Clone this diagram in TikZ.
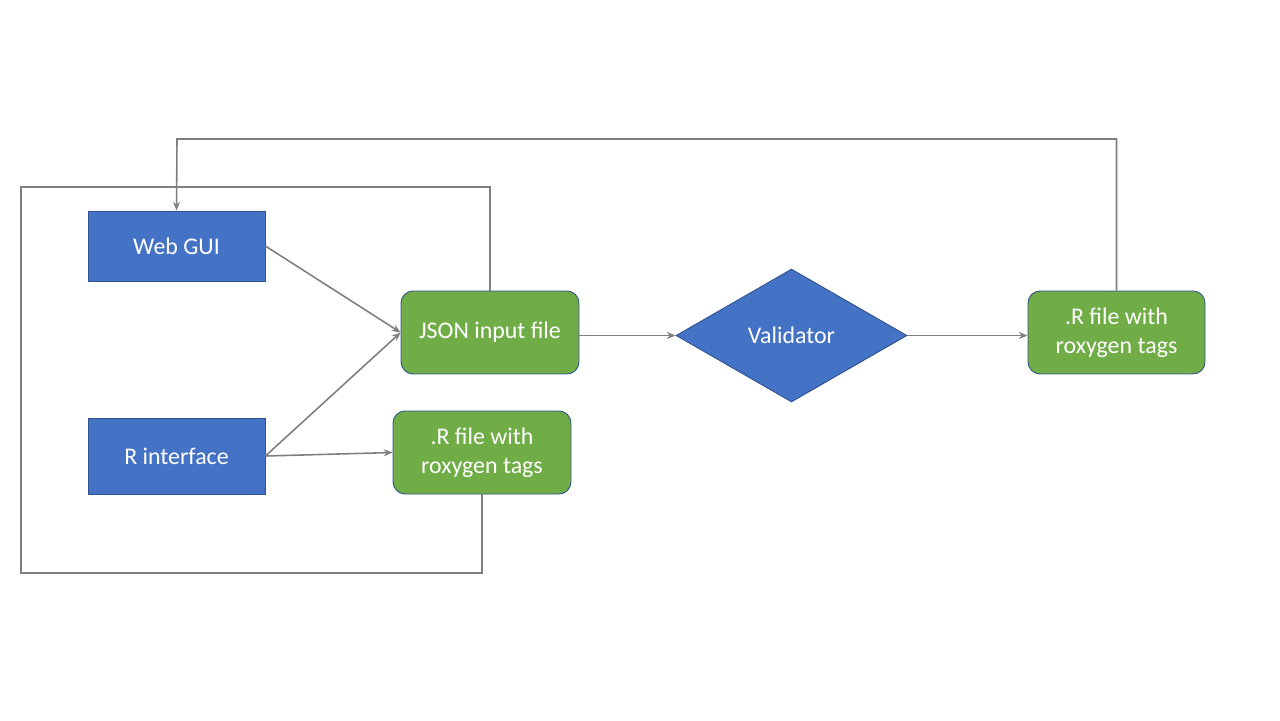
\documentclass[tikz,border=0pt]{standalone}
\usepackage{fontspec}
\setmainfont{Carlito}
\usepackage{tikz}
\usetikzlibrary{arrows.meta,calc,positioning,shapes.geometric}
\definecolor{boxblue}{HTML}{4472C4}
\definecolor{boxgreen}{HTML}{70AD47}
\definecolor{edgeblue}{HTML}{2F528F}
\definecolor{wire}{HTML}{7F7F7F}
\tikzset{
	flow diagram/.style={
		x=0.02cm, y=-0.02cm,
		every node/.style={font=\fontsize{13.6}{16.5}\selectfont, text=white, align=center,
			draw=edgeblue, line width=0.5pt, inner sep=0pt},
		ar/.style={draw=wire, line width=0.9pt, -{Stealth[length=5pt,width=4pt]}},
		wr/.style={draw=wire, line width=0.9pt}
		},
	blk/.style={fill=boxblue, minimum width=3.54cm, minimum height=#1},
	blk/.default=1.4cm,
	doc/.style={fill=boxgreen, rounded corners=0.24cm, minimum width=3.56cm, minimum height=1.66cm},
	chk/.style={diamond, fill=boxblue, aspect=1.74, minimum width=4.62cm, minimum height=2.66cm}
}
\begin{document}
\begin{tikzpicture}[flow diagram]
	\useasboundingbox (0,0) rectangle (1280,720);
	\node[blk] (W) at (176.5,246) {Web GUI};
	\node[blk=1.52cm] (R) at (176.5,456) {R interface};
	\node[doc] (J) at (490,332.5) {JSON input file};
	\node[doc] (F1) at (482,452.5) {.R file with\\roxygen tags};
	\node[chk] (V) at (791.5,335.5) {Validator};
	\node[doc, minimum width=3.54cm] (F2) at (1116.5,332.5) {.R file with\\roxygen tags};
	\draw[ar] (W.east) -- (J.west);
	\draw[ar] (R.east) -- (J.west);
	\draw[ar] (R.east) -- (F1.west);
	\draw[ar] (J.east |- V.west) -- (V.west);
	\draw[ar] (V.east) -- (F2.west |- V.east);
	% frame round the inputs
	\draw[wr] (J.north) |- (21,187) |- (F1.south |- 0,573) -- (F1.south);
	% back to the GUI
	\draw[ar] (F2.north) |- (177,139) -- (W.north);
\end{tikzpicture}
\end{document}
